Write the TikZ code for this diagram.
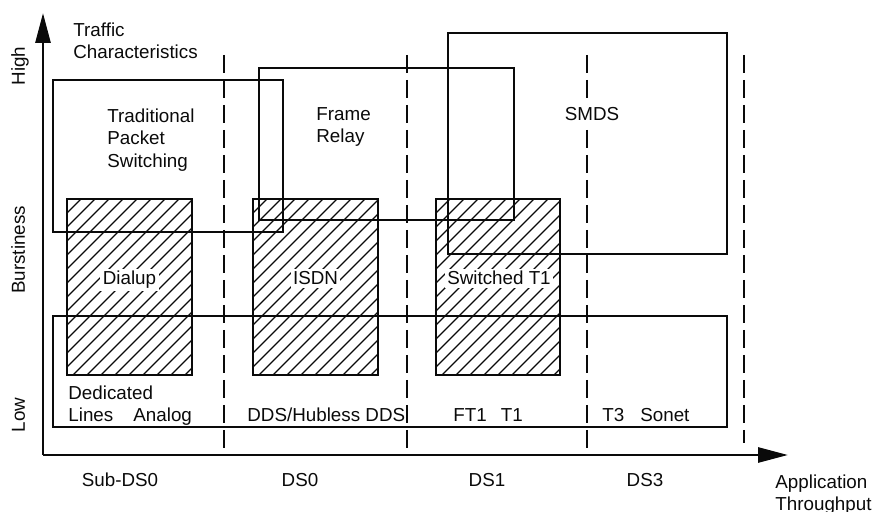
\documentclass[tikz,border=0pt]{standalone}
\usepackage{fontspec}
\setmainfont{Liberation Sans}
\usetikzlibrary{arrows.meta}
\definecolor{chartink}{RGB}{10,10,10}
\tikzset{
  chartlabel/.style={font=\fontsize{9.4pt}{11.25pt}\selectfont, inner sep=0pt,
    text=chartink},
  chartblock/.style={chartlabel, align=left, anchor=north west},
  hatchlabel/.style={chartlabel, fill=white, inner sep=1.2pt, anchor=base},
  regionline/.style={draw=chartink, line width=1.35pt},
  hatchline/.style={draw=chartink, line width=0.7pt},
  bandline/.style={draw=chartink, line width=1.25pt,
    dash pattern=on 9pt off 3.5pt},
  axisline/.style={draw=chartink, line width=1.4pt,
    -{Triangle[length=15pt, width=7.5pt]}},
}
\begin{document}
\begin{tikzpicture}[x=0.5pt, y=-0.5pt]
  \useasboundingbox (0,0) rectangle (874,512);
  % hatched access boxes
  \foreach \xa/\xb in {67/192, 253/378, 436/560} {
    \begin{scope}
      \clip (\xa,199) rectangle (\xb,375);
      \foreach \k in {0,14,...,308}
        \draw[hatchline] (\xa-176+\k,375) -- ++(176,-176);
    \end{scope}
    \draw[regionline] (\xa,199) rectangle (\xb,375);
  }
  % service regions
  \draw[regionline] (53,80) rectangle (283,232);
  \draw[regionline] (259,68) rectangle (514,220);
  \draw[regionline] (448,33) rectangle (727,254);
  \draw[regionline] (53,316) rectangle (727,427);
  % rate bands
  \foreach \xs in {224,407,587}
    \draw[bandline] (\xs,55) -- (\xs,454);
  \draw[bandline] (744,55) -- (744,443);
  % axes
  \coordinate (origin) at (43,455);
  \coordinate (ytip) at (43,13);
  \coordinate (xtip) at (788,455);
  \draw[axisline] (origin) -- (ytip);
  \draw[axisline] (origin) -- (xtip);
  % labels
  \node[chartblock] (traffic) at (73,22) {Traffic\\Characteristics};
  \node[chartlabel, rotate=90, anchor=base] (high) at (25,66) {High};
  \node[chartlabel, rotate=90, anchor=base] (burst) at (25,250) {Burstiness};
  \node[chartlabel, rotate=90, anchor=base] (low) at (25,415) {Low};
  \node[chartblock] (packet) at (107,108) {Traditional\\Packet\\Switching};
  \node[chartblock] (frame) at (316,107) {Frame\\Relay};
  \node[chartlabel, fill=white, inner sep=1.2pt, anchor=base west] (smds)
    at (562,121) {SMDS};
  \node[hatchlabel] (dialup) at (129.5,285) {Dialup};
  \node[hatchlabel] (isdn) at (315.5,285) {ISDN};
  \node[hatchlabel] (swt1) at (499,285) {Switched T1};
  \node[chartblock] (dedicated) at (68,385) {Dedicated\\Lines};
  \node[chartlabel, anchor=base west] (analog) at (133,422) {Analog};
  \node[chartlabel, anchor=base west] (dds) at (247,422) {DDS/Hubless DDS};
  \node[chartlabel, anchor=base west] (ft1) at (453,422) {FT1\hspace{7pt}T1};
  \node[chartlabel, anchor=base west] (t3) at (602,422) {T3\hspace{8pt}Sonet};
  \node[chartlabel, anchor=base] (subds0) at (120,487) {Sub-DS0};
  \node[chartlabel, anchor=base] (ds0) at (300,487) {DS0};
  \node[chartlabel, anchor=base] (ds1) at (487,487) {DS1};
  \node[chartlabel, anchor=base] (ds3) at (645,487) {DS3};
  \node[chartblock] (throughput) at (775,474) {Application\\Throughput};
\end{tikzpicture}
\end{document}
